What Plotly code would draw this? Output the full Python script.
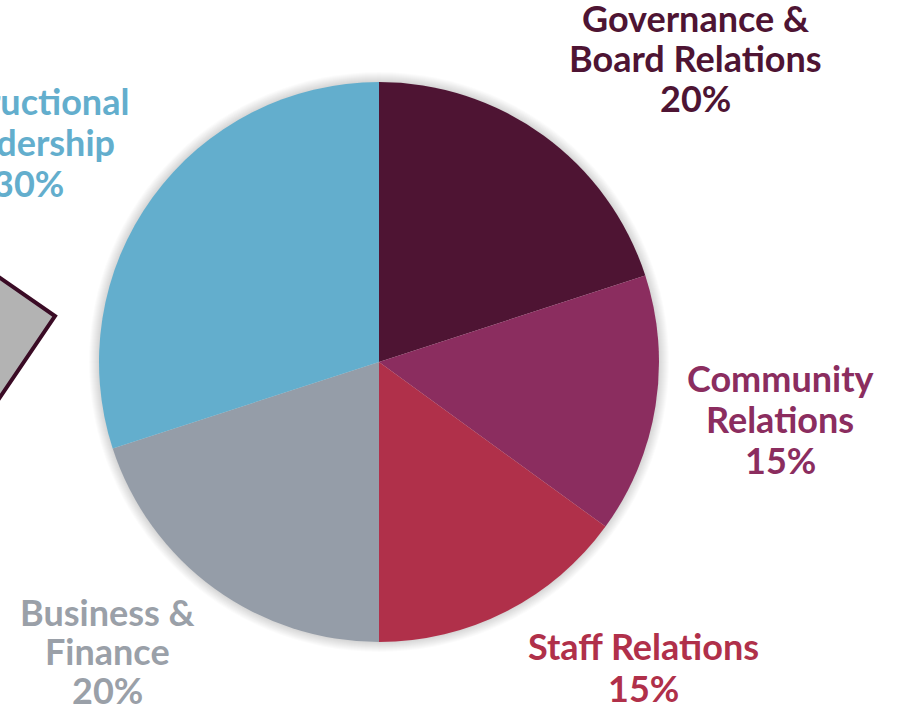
import plotly.graph_objects as go

W, H = 897, 707

categories = ["Governance &<br>Board Relations", "Community<br>Relations", "Staff Relations",
              "Business &<br>Finance", "Instructional<br>Leadership"]
values = [20, 15, 15, 20, 30]
slice_colors = ["#4E1433", "#8B2D5F", "#B0304A", "#959DA8", "#63AECD"]
label_colors = ["#4E1433", "#8B2D5F", "#B0304A", "#9AA0A8", "#63AECD"]
# label block centre positions in pixels (x, y from top) and line spacing
label_pos = [(695, 58), (780, 419), (643, 667), (107, 651), (28, 142)]
line_gap = [40, 41, 42, 39, 41]

cx, cy, r = 379, 362, 280

fig = go.Figure()
fig.add_trace(go.Pie(
    labels=categories, values=values, sort=False, direction="clockwise", rotation=0,
    marker=dict(colors=slice_colors, line=dict(width=0)),
    textinfo="none", hoverinfo="label+percent", showlegend=False,
    domain=dict(x=[(cx - r) / W, (cx + r) / W], y=[(H - cy - r) / H, (H - cy + r) / H]),
))

# soft glow/shadow behind the pie
for k in range(1, 11):
    rr = r + k
    fig.add_shape(type="circle", xref="paper", yref="paper", layer="below",
                  x0=(cx - rr) / W, x1=(cx + rr) / W,
                  y0=(H - cy - rr) / H, y1=(H - cy + rr) / H,
                  fillcolor="rgba(0,0,0,0.016)", line=dict(width=0))

total = sum(values)
for lab, v, col, (px, py), gap in zip(categories, values, label_colors, label_pos, line_gap):
    lines = lab.split("<br>") + [f"{round(100 * v / total)}%"]
    n = len(lines)
    for i, line in enumerate(lines):
        ly = py + (i - (n - 1) / 2) * gap
        fig.add_annotation(
            x=px / W, y=1 - ly / H, xref="paper", yref="paper", text=line, showarrow=False,
            xanchor="center", yanchor="middle", align="center",
            font=dict(family="Lato", size=36, color=col, weight="bold"),
        )

# decorative grey shape at the left edge
pts = [(-10, 271), (55, 316), (-10, 412)]
path = "M " + " L ".join(f"{x / W},{1 - y / H}" for x, y in pts) + " Z"
fig.add_shape(type="path", path=path, xref="paper", yref="paper",
              fillcolor="#B3B3B3", line=dict(color="#3A0B25", width=4))

fig.update_layout(width=W, height=H, margin=dict(l=0, r=0, t=0, b=0),
                  paper_bgcolor="white", plot_bgcolor="white")
fig.write_html("out.html", config={"displayModeBar": False},
               post_script="document.body.style.margin='0px';")
